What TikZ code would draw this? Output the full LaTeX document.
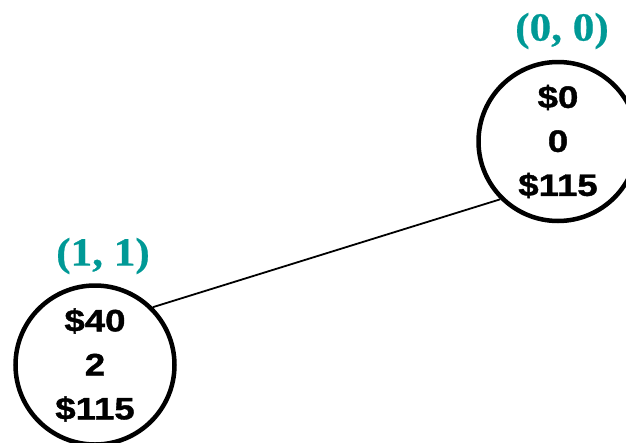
\documentclass[tikz,border=0pt]{standalone}
\usepackage{fontspec}
\newfontface\numfont{Liberation Sans Bold}[FakeStretch=1.18,FakeBold=1.2]
\newfontface\labfont{Liberation Serif Bold}[FakeStretch=1.08,FakeBold=0.6]
\definecolor{tealc}{RGB}{0,153,150}
\begin{document}
\begin{tikzpicture}[x=1pt,y=-1pt,
  state/.style={circle,draw=black,line width=4.5pt,minimum size=159pt,inner sep=0pt,
    align=center,font=\numfont\fontsize{31}{44}\selectfont},
  lab/.style={inner sep=0pt,text=tealc,font=\labfont\fontsize{40}{44}\selectfont}]
\useasboundingbox (0,0) rectangle (626,442);
\node[state] (c1) at (558,141.5) {\$0\\0\\\$115};
\node[state] (c2) at (95,365) {\$40\\2\\\$115};
\node[lab] (l1) at (562,31) {(0, 0)};
\node[lab] (l2) at (103,256) {(1, 1)};
\draw[line width=1.8pt] (c2.45) -- (c1.225);
\end{tikzpicture}
\end{document}
